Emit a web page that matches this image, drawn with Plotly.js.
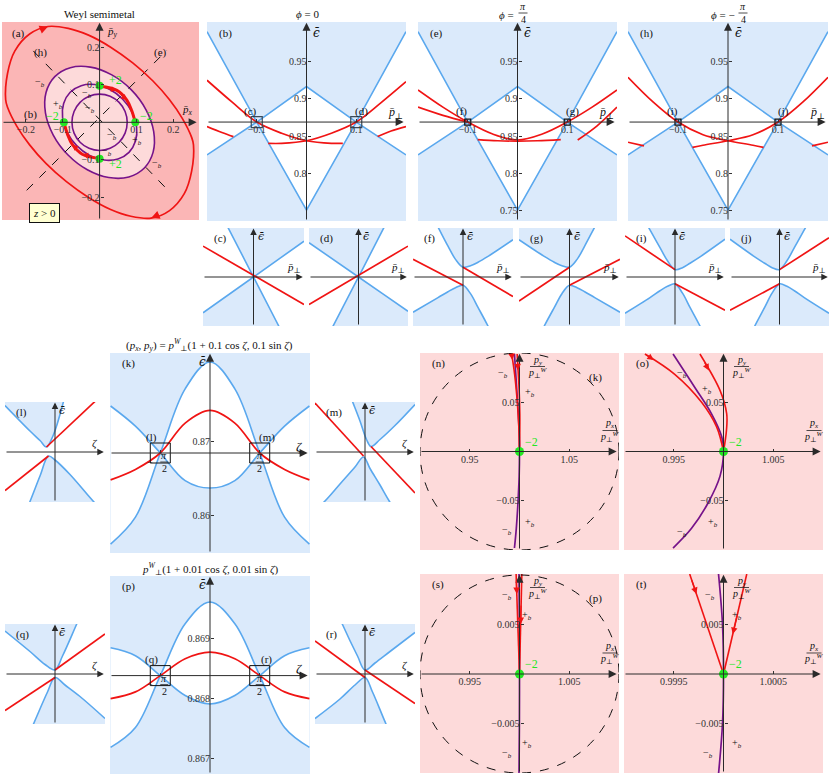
<!DOCTYPE html>
<html>
<head>
<meta charset="utf-8">
<script src="https://cdn.plot.ly/plotly-3.0.1.min.js"></script>
<style>body{margin:0;background:#fff}#fig{width:830px;height:778px}</style>
</head>
<body>
<div id="fig"></div>
<script>
// ---------- (a) orbits in the (px, py) plane ----------
var aRedX = [-0.255,-0.25,-0.23,-0.19,-0.14,-0.085,-0.03,0.03,0.09,0.145,0.19,0.225,0.25,0.255,0.25,0.23,0.19,0.14,0.085,0.03,-0.03,-0.09,-0.145,-0.19,-0.225,-0.25,-0.255];
var aRedY = [0.06,0.13,0.19,0.235,0.255,0.25,0.232,0.2,0.158,0.11,0.06,0.01,-0.04,-0.06,-0.13,-0.19,-0.235,-0.255,-0.25,-0.232,-0.2,-0.158,-0.11,-0.06,-0.01,0.04,0.06];
var aPurpOutX = [-0.1216,-0.0794,-0.025,0.0332,0.0863,0.1262,0.147,0.1454,0.1216,0.0794,0.025,-0.0332,-0.0863,-0.1262,-0.147,-0.1454,-0.1216];
var aPurpOutY = [0.1216,0.1454,0.147,0.1262,0.0863,0.0332,-0.025,-0.0794,-0.1216,-0.1454,-0.147,-0.1262,-0.0863,-0.0332,0.025,0.0794,0.1216];
var aPurpMidX = [-0.0799,-0.05,-0.0125,0.0269,0.0622,0.0881,0.1005,0.0976,0.0799,0.05,0.0125,-0.0269,-0.0622,-0.0881,-0.1005,-0.0976,-0.0799];
var aPurpMidY = [0.0799,0.0976,0.1005,0.0881,0.0622,0.0269,-0.0125,-0.05,-0.0799,-0.0976,-0.1005,-0.0881,-0.0622,-0.0269,0.0125,0.05,0.0799];
var aPurpInX = [0.075,0.0693,0.053,0.0287,0,-0.0287,-0.053,-0.0693,-0.075,-0.0693,-0.053,-0.0287,0,0.0287,0.053,0.0693,0.075];
var aPurpInY = [0,0.0287,0.053,0.0693,0.075,0.0693,0.053,0.0287,0,-0.0287,-0.053,-0.0693,-0.075,-0.0693,-0.053,-0.0287,0];
var aArcUpX = [0.001,0.047,0.074,0.087,0.0965];
var aArcUpY = [0.096,0.085,0.059,0.032,0.001];
var aArcDnX = [-0.001,-0.047,-0.074,-0.087,-0.0965];
var aArcDnY = [-0.096,-0.085,-0.059,-0.032,-0.001];
var aDashHX = [-0.18,0.186], aDashHY = [0.19,-0.181];
var aDashEX = [-0.198,0.183], aDashEY = [-0.181,0.192];
var aNodeX = [0,0.097,0,-0.097], aNodeY = [0.097,0,-0.097,0];
var aTicks = [-0.2,-0.1,0.1,0.2];

// ---------- (b), (e), (h) cuts through the nodes ----------
var cutP = [-0.2,-0.1,0,0.1,0.2];
var cutHi = [0.99,0.869,0.9165,0.869,0.99];
var cutLo = [0.825,0.869,0.751,0.869,0.825];
var cutTickP = [-0.1,0.1];
var bTickE = [0.8,0.85,0.9,0.95];
var eTickE = [0.75,0.8,0.85,0.9,0.95];
var crossP = [-0.1,0.1], crossE = [0.869,0.869];
var bRedAX = [-0.2,-0.15,-0.1,-0.05,0,0.05,0.073,0.1,0.143,0.17,0.2];
var bRedAY = [0.925,0.896,0.869,0.854,0.844,0.8405,0.8405,null,0.8497,0.857,0.863];
var bRedBX = [0.2,0.15,0.1,0.05,0,-0.05,-0.077,-0.1,-0.147,-0.17,-0.2];
var bRedBY = [0.923,0.895,0.869,0.854,0.844,0.8405,0.8405,null,0.8495,0.855,0.863];
var eRedAX = [-0.2,-0.15,-0.1,-0.05,0,0.05,0.1,0.15,0.2];
var eRedAY = [0.912,0.889,0.869,0.853,0.845,0.853,0.869,0.889,0.912];
var eRedBX = [-0.2,-0.15,-0.1,-0.09,-0.08,-0.04,0,0.04,0.087,0.1,0.121,0.16,0.2];
var eRedBY = [0.889,0.878,0.869,null,0.8455,0.844,0.8435,0.844,0.8455,null,0.845,0.864,0.889];
var hRedAX = [-0.2,-0.15,-0.1,-0.05,0,0.05,0.071];
var hRedAY = [0.929,0.896,0.869,0.852,0.844,0.838,0.835];
var hRedBX = [0.2,0.15,0.1,0.05,0,-0.05,-0.071];
var hRedBY = [0.929,0.896,0.869,0.852,0.844,0.838,0.835];
var hRedOutX = [-0.2,-0.168,0,0.168,0.2];
var hRedOutY = [0.842,0.837,null,0.837,0.842];

// ---------- small zoom panels (arbitrary units) ----------
var cdGridX = [-1,-0.5,0,0.5,1];
var cHiY = [2.0,1.0,0,0.365,0.73];
var cLoY = [-0.73,-0.365,0,-1.0,-2.0];
var cRedX = [-1,1], cRedY = [0.63,-0.56];
var dHiY = [0.7,0.35,0,0.98,1.95];
var dLoY = [-1.95,-0.98,0,-0.35,-0.7];
var dRedX = [-1,1], dRedY = [-0.56,0.63];
var gapGridX = [-1,-0.5,-0.3,-0.15,0,0.15,0.3,0.5,1];
var fHiY = [2.0,1.02,0.63,0.36,0.2,0.23,0.3,0.42,0.76];
var fLoY = [-0.72,-0.42,-0.3,-0.22,-0.17,-0.34,-0.62,-1.0,-2.0];
var fRedX = [-1,0,0,0,1], fRedY = [0.36,-0.17,null,0.2,-0.4];
var gHiY = [0.76,0.42,0.3,0.23,0.2,0.36,0.63,1.02,2.0];
var gLoY = [-2.0,-1.0,-0.62,-0.34,-0.17,-0.22,-0.3,-0.42,-0.72];
var gRedX = [-1,0,0,0,1], gRedY = [-0.49,0.2,null,-0.17,0.36];
var iHiY = [1.9,0.96,0.6,0.33,0.15,0.19,0.28,0.41,0.77];
var iLoY = [-0.74,-0.42,-0.28,-0.19,-0.14,-0.33,-0.62,-1.0,-2.0];
var iRedX = [-1,0,0,0,1], iRedY = [0.84,0.15,null,-0.14,-0.68];
var jHiY = [0.77,0.41,0.28,0.19,0.15,0.33,0.6,0.96,1.9];
var jLoY = [-2.0,-1.0,-0.62,-0.33,-0.14,-0.19,-0.28,-0.42,-0.74];
var jRedX = [-1,0,0,0,1], jRedY = [-0.68,-0.14,null,0.15,0.8];
var lHiX = [-1,-0.5,-0.3,-0.17,-0.05,0.05,0.17,0.4,1];
var lHiY = [0.93,0.42,0.23,0.1,0.3,0.58,1.01,1.9,4.0];
var lLoX = [-1,-0.5,-0.3,-0.13,0,0.3,0.77,1];
var lLoY = [-2.2,-0.99,-0.48,-0.08,-0.16,-0.45,-0.99,-1.22];
var lRedX = [-1,-0.13,-0.15,-0.17,1], lRedY = [-0.77,-0.08,null,0.1,1.2];
var mHiX = [-1,-0.4,-0.25,-0.1,0.03,0.12,0.3,0.6,1];
var mHiY = [3.0,1.4,1.01,0.62,0.25,0.11,0.25,0.53,0.95];
var mLoX = [-1,-0.81,-0.5,-0.2,-0.03,0.1,0.3,0.49,1];
var mLoY = [-1.15,-0.99,-0.64,-0.3,-0.1,-0.33,-0.66,-0.99,-1.8];
var mRedX = [-1,-0.03,0.05,0.12,1], mRedY = [0.98,-0.08,null,0.11,-0.82];
var qHiX = [-1,-0.5,-0.2,0,0.15,0.43,1];
var qHiY = [0.86,0.45,0.19,0.08,0.36,0.99,2.3];
var qLoX = [-1,-0.43,-0.15,0,0.2,0.5,1];
var qLoY = [-2.3,-1.0,-0.36,-0.07,-0.22,-0.45,-0.89];
var qRedX = [-1,0,0,0,1], qRedY = [-0.73,-0.07,null,0.08,0.8];
var rHiX = [-1,-0.45,-0.15,0,0.2,0.5,1];
var rHiY = [2.3,0.99,0.36,0.08,0.22,0.45,0.83];
var rLoX = [-1,-0.5,-0.2,0,0.15,0.42,1];
var rLoY = [-0.89,-0.5,-0.22,-0.07,-0.36,-1.0,-2.3];
var rRedX = [-1,0,0,0,1], rRedY = [0.66,-0.07,null,0.08,-0.59];

// ---------- (k), (p) energies along the small loops ----------
var kZeta = [-3.1416,-2.3562,-1.5708,-0.7854,0,0.7854,1.5708,2.3562,3.1416];
var kBandU = [0.8747,0.872,0.8684,0.8647,0.8637,0.8647,0.8684,0.872,0.8747];
var kBandV = [0.8562,0.8598,0.8684,0.877,0.8806,0.877,0.8684,0.8598,0.8562];
var kRed = [0.8648,0.8662,0.8684,0.8724,0.8741,0.8724,0.8684,0.8662,0.8648];
var kTickE = [0.86,0.87];
var kCrossZ = [-1.5708,1.5708], kCrossE = [0.8684,0.8684];
var pBandU = [0.86884,0.86871,0.86838,0.86805,0.86791,0.86805,0.86838,0.86871,0.86884];
var pBandV = [0.86719,0.86752,0.86838,0.86924,0.8696,0.86924,0.86838,0.86752,0.86719];
var pRed = [0.868,0.86811,0.86838,0.86866,0.86877,0.86866,0.86838,0.86811,0.868];
var pTickE = [0.867,0.868,0.869];
var pCrossE = [0.86838,0.86838];

// ---------- (n), (o), (s), (t) orbits near the node ----------
var orbRed1X = [0.9921,0.9951,0.9978,0.99931,1.0];
var orbRed1Y = [0.099,0.0784,0.05,0.025,0];
var orbRed2X = [0.99763,0.99965,1.00032,1.0003,1.0];
var orbRed2Y = [0.099,0.062,0.0384,0.0217,0];
var orbPurpX = [0.99493,0.99712,0.99881,0.99982,1.0,0.99965,0.99846,0.99679,0.99493];
var orbPurpY = [0.099,0.065,0.038,0.015,0,-0.025,-0.052,-0.078,-0.098];
var thinRed1X = [0.99966,1.0], thinRed1Y = [0.0101,0];
var thinRed2X = [1.000234,1.0], thinRed2Y = [0.0101,0];
var thinPurpX = [0.99995,0.99999,1.0,0.99999,0.99995];
var thinPurpY = [0.0101,0.005,0,-0.005,-0.0101];
var nodeX = [1.0], nodeY = [0];

// ================= drawing =================
var W = 830, H = 778;
var FONT = '"Liberation Serif", "DejaVu Serif", serif';
var BLUE = '#5aa8ee', BLUE_BG = '#dbeafb', RED = '#f01414', PURPLE = '#76138a', GREEN = '#22e622';
var PINK = '#fbb6b6', PINK_LT = '#fddada', AXC = '#2a2a2a';
var TICKFONT = {family: FONT, size: 10, color: '#333'};
var EPS = '<span style="font-family:DejaVu Serif"><i>ϵ̄</i></span>';
var PPERP = '<i>p̄</i><sub>⊥</sub>', ZETA = '<i>ζ</i>';
var MB = '−<sub><i>b</i></sub>', PB = '+<sub><i>b</i></sub>';

var traces = [], shapes = [], annots = [];
var layout = {width: W, height: H, margin: {l: 0, r: 0, t: 0, b: 0}, paper_bgcolor: '#fff',
  plot_bgcolor: 'rgba(0,0,0,0)', showlegend: false, font: {family: FONT}};
var nAx = 0;

function txt(xp, yp, s, size, color, xanc) {
  annots.push({xref: 'paper', yref: 'paper', x: xp / W, y: 1 - yp / H, text: s, showarrow: false,
    font: {family: FONT, size: size || 11, color: color || '#111'}, xanchor: xanc || 'center', yanchor: 'middle'});
}
function frac(cx, cy, num, den, w, size) {
  txt(cx, cy - 6.5, num, size);
  txt(cx, cy + 6.5, den, size);
  shapes.push({type: 'line', xref: 'paper', yref: 'paper', x0: (cx - w / 2) / W, x1: (cx + w / 2) / W,
    y0: 1 - cy / H, y1: 1 - cy / H, line: {color: '#222', width: 0.8}});
}
function arrow(p, xt, yt, xh, yh, color, size, width) {
  annots.push({xref: p.xa, yref: p.ya, axref: p.xa, ayref: p.ya, x: xh, y: yh, ax: xt, ay: yt, text: '',
    showarrow: true, arrowhead: 2, arrowsize: size, arrowwidth: width, arrowcolor: color, standoff: 0, startstandoff: 0});
}
function makePanel(box, xr, yr, o) {
  var k = ++nAx, s = k === 1 ? '' : String(k);
  var p = {xa: 'x' + s, ya: 'y' + s, box: box, xr: xr, yr: yr};
  p.px = function (v) { return box[0] + (v - xr[0]) / (xr[1] - xr[0]) * (box[1] - box[0]); };
  p.py = function (v) { return box[3] - (v - yr[0]) / (yr[1] - yr[0]) * (box[3] - box[2]); };
  var x0 = o.x0 || 0, y0 = o.y0 || 0;
  p.ax = p.px(x0); p.ay = p.py(y0);
  layout['xaxis' + s] = {domain: [box[0] / W, box[1] / W], range: xr, anchor: 'free', position: 1 - p.ay / H,
    showgrid: false, zeroline: false, showline: false, tickmode: 'array', tickvals: o.xt || [],
    showticklabels: !!o.xt && !o.hideX, ticks: o.xt ? 'inside' : '', ticklen: 3, tickcolor: '#333',
    tickfont: TICKFONT, fixedrange: true};
  layout['yaxis' + s] = {domain: [1 - box[3] / H, 1 - box[2] / H], range: yr, anchor: 'free', position: p.ax / W,
    showgrid: false, zeroline: false, showline: false, tickmode: 'array', tickvals: o.yt || [],
    showticklabels: !!o.yt, ticks: o.yt ? 'inside' : '', ticklen: 3, tickcolor: '#333',
    tickfont: TICKFONT, fixedrange: true};
  if (o.bg) shapes.push({type: 'rect', xref: p.xa + ' domain', yref: p.ya + ' domain', x0: 0, x1: 1, y0: 0, y1: 1,
    fillcolor: o.bg, line: {width: 0}, layer: 'below'});
  p.axes = function () {
    arrow(p, xr[0], y0, xr[1] - (xr[1] - xr[0]) * 0.012, y0, AXC, o.as || 1.6, 1);
    arrow(p, x0, yr[0], x0, yr[1] - (yr[1] - yr[0]) * 0.004, AXC, o.as || 1.6, 1);
  };
  return p;
}
function curve(p, xs, ys, color, width, shape, dash) {
  traces.push({type: 'scatter', mode: 'lines', x: xs, y: ys, xaxis: p.xa, yaxis: p.ya, hoverinfo: 'skip',
    connectgaps: false, line: {color: color, width: width, shape: shape || 'linear', dash: dash || 'solid', smoothing: 1}});
}
function band(p, x1, y1, x2, y2, shape) {
  traces.push({type: 'scatter', mode: 'lines', x: x1, y: y1, xaxis: p.xa, yaxis: p.ya, hoverinfo: 'skip',
    line: {width: 0, shape: shape || 'linear', smoothing: 1}});
  traces.push({type: 'scatter', mode: 'lines', x: x2, y: y2, xaxis: p.xa, yaxis: p.ya, hoverinfo: 'skip',
    line: {width: 0, shape: shape || 'linear', smoothing: 1}, fill: 'tonexty', fillcolor: '#ffffff'});
  curve(p, x1, y1, BLUE, 1.6, shape);
  curve(p, x2, y2, BLUE, 1.6, shape);
}
function dots(p, xs, ys, color, size, symbol, lw) {
  traces.push({type: 'scatter', mode: 'markers', x: xs, y: ys, xaxis: p.xa, yaxis: p.ya, hoverinfo: 'skip',
    cliponaxis: false, marker: {color: color, size: size, symbol: symbol || 'circle', line: {color: color, width: lw || 0}}});
}
function flow(p, xs, ys, i, f0, f1, color, size) {
  var dx = xs[i + 1] - xs[i], dy = ys[i + 1] - ys[i];
  arrow(p, xs[i] + dx * f0, ys[i] + dy * f0, xs[i] + dx * f1, ys[i] + dy * f1, color, size, 1.3);
}

// ----- (a) -----
var pa = makePanel([2, 199, 22, 220], [-0.265, 0.27], [-0.26, 0.267], {xt: aTicks, yt: aTicks, bg: PINK});
traces.push({type: 'scatter', mode: 'lines', x: aPurpOutX, y: aPurpOutY, xaxis: pa.xa, yaxis: pa.ya, hoverinfo: 'skip',
  fill: 'toself', fillcolor: PINK_LT, line: {color: PURPLE, width: 1.6, shape: 'spline'}});
curve(pa, aDashHX, aDashHY, '#111', 1, 'linear', 'dash');
curve(pa, aDashEX, aDashEY, '#111', 1, 'linear', 'dash');
pa.axes();
curve(pa, aPurpMidX, aPurpMidY, PURPLE, 1.6, 'spline');
curve(pa, aPurpInX, aPurpInY, PURPLE, 1.6, 'spline');
curve(pa, aRedX, aRedY, RED, 1.7, 'spline');
curve(pa, aArcUpX, aArcUpY, RED, 3, 'spline');
curve(pa, aArcDnX, aArcDnY, RED, 3, 'spline');
dots(pa, aNodeX, aNodeY, GREEN, 8);
flow(pa, aRedX, aRedY, 3, 0.5, 1, RED, 1.3);
flow(pa, aRedX, aRedY, 16, 0.5, 1, RED, 1.3);
flow(pa, aArcUpX, aArcUpY, 0, 0.4, 1, RED, 0.9);
flow(pa, aArcUpX, aArcUpY, 1, 0.4, 1, RED, 0.9);
flow(pa, aArcDnX, aArcDnY, 0, 0.4, 1, RED, 0.9);
flow(pa, aArcDnX, aArcDnY, 1, 0.4, 1, RED, 0.9);
txt(99, 14, 'Weyl semimetal', 11);
txt(10, 33, '(a)', 11, '#111', 'left');
txt(112, 32, '<i>p̄<sub>y</sub></i>', 11);
txt(187, 110, '<i>p̄<sub>x</sub></i>', 11);
txt(40, 53, '(h)', 11); txt(160, 53, '(e)', 11); txt(30, 114, '(b)', 11);
txt(115, 80, '+2', 12, GREEN); txt(146, 116, '−2', 12, GREEN);
txt(52, 116, '−2', 12, GREEN); txt(115, 164, '+2', 12, GREEN);
[[40, 82, MB], [87, 93, MB], [58, 105, PB], [90, 108, MB], [112, 136, MB], [137, 140, PB], [107, 152, MB], [157, 163, MB]]
  .forEach(function (t) { txt(t[0], t[1], t[2], 10); });
annots.push({xref: 'paper', yref: 'paper', x: 28.5 / W, y: 1 - 202.5 / H, text: '<i>z</i> &gt; 0', showarrow: false,
  font: {family: FONT, size: 11, color: '#111'}, bgcolor: '#ffffd2', bordercolor: '#111', borderwidth: 1, borderpad: 3});

// ----- (b), (e), (h) -----
function cutPanel(box, ticksE, red, squareSize, lbl) {
  var p = makePanel(box, [-0.2, 0.2], [0.7365, 1.003], {y0: 0.869, xt: cutTickP, yt: ticksE, bg: BLUE_BG});
  band(p, cutP, cutLo, cutP, cutHi);
  p.axes();
  red.forEach(function (r) { curve(p, r[0], r[1], RED, 1.7, 'spline'); });
  dots(p, crossP, crossE, squareSize > 8 ? '#3a4a5a' : '#111', squareSize, 'square-open', 1.2);
  txt(box[0] + 10, box[2] + 11, lbl[0], 11, '#111', 'left');
  txt(p.ax + 10, box[2] + 11, EPS, 12);
  txt(box[1] - 11, p.ay - 9, PPERP, 12);
  txt(p.px(-0.1) - 6, p.ay - 11, lbl[1], 11);
  txt(p.px(0.1) + 5, p.ay - 11, lbl[2], 11);
  return p;
}
var pb = cutPanel([207, 406, 22, 221], bTickE, [[bRedAX, bRedAY], [bRedBX, bRedBY]], 11, ['(b)', '(c)', '(d)']);
var pe = cutPanel([418, 617, 22, 221], eTickE, [[eRedAX, eRedAY], [eRedBX, eRedBY]], 6, ['(e)', '(f)', '(g)']);
var ph = cutPanel([628, 828, 22, 221], eTickE, [[hRedAX, hRedAY], [hRedBX, hRedBY], [hRedOutX, hRedOutY]], 6, ['(h)', '(i)', '(j)']);
txt(307, 14, '<i>ϕ</i> = 0', 11);
txt(516, 15, '<i>ϕ</i> =', 11, '#111', 'right'); frac(523, 13, '<i>π</i>', '4', 9, 10);
txt(737, 15, '<i>ϕ</i> = −', 11, '#111', 'right'); frac(743, 13, '<i>π</i>', '4', 9, 10);

// ----- small zoom panels -----
function smallPanel(box, lbl, xlab, hiX, hiY, loX, loY, redX, redY, shape) {
  var p = makePanel(box, [-1, 1], [-1, 1], {bg: BLUE_BG, as: 1.3});
  band(p, loX, loY, hiX, hiY, shape);
  p.axes();
  curve(p, redX, redY, RED, 1.7);
  txt(box[0] + 9, box[2] + 10, lbl, 11, '#111', 'left');
  txt(p.ax + 7, box[2] + 8, EPS, 11);
  txt(box[1] - 10, p.ay - 9, xlab, 11);
  return p;
}
smallPanel([203, 304, 228, 326], '(c)', PPERP, cdGridX, cHiY, cdGridX, cLoY, cRedX, cRedY, 'linear');
smallPanel([309, 408, 228, 326], '(d)', PPERP, cdGridX, dHiY, cdGridX, dLoY, dRedX, dRedY, 'linear');
smallPanel([413, 513, 228, 326], '(f)', PPERP, gapGridX, fHiY, gapGridX, fLoY, fRedX, fRedY, 'spline');
smallPanel([519, 620, 228, 326], '(g)', PPERP, gapGridX, gHiY, gapGridX, gLoY, gRedX, gRedY, 'spline');
smallPanel([625, 725, 228, 326], '(i)', PPERP, gapGridX, iHiY, gapGridX, iLoY, iRedX, iRedY, 'spline');
smallPanel([730, 829, 228, 326], '(j)', PPERP, gapGridX, jHiY, gapGridX, jLoY, jRedX, jRedY, 'spline');

// ----- (k) and (p) -----
function loopPanel(box, yr, y0, ticks, U, V, R, crossE2, lbl, sub, title, ty) {
  var p = makePanel(box, [-3.16, 3.16], yr, {y0: y0, xt: kCrossZ, hideX: true, yt: ticks, bg: BLUE_BG});
  band(p, kZeta, U, kZeta, V, 'spline');
  p.axes();
  curve(p, kZeta, R, RED, 1.7, 'spline');
  dots(p, kCrossZ, crossE2, '#111', 20, 'square-open', 1);
  txt(box[0] + 10, box[2] + 10, lbl, 11, '#111', 'left');
  txt(p.ax - 8, box[2] + 9, EPS, 12);
  txt(box[1] - 11, p.ay - 7, ZETA, 13);
  txt(p.px(-1.5708) - 9, p.ay - 16, sub[0], 11);
  txt(p.px(1.5708) + 7, p.ay - 16, sub[1], 11);
  txt(p.px(-1.5708) - 10, p.ay + 9, '−', 10);
  frac(p.px(-1.5708) + 4, p.ay + 9, '<i>π</i>', '2', 8, 10);
  frac(p.px(1.5708), p.ay + 9, '<i>π</i>', '2', 8, 10);
  txt(210, ty, title, 11);
  return p;
}
var pl = smallPanel([5, 105, 402, 502], '(l)', ZETA, lHiX, lHiY, lLoX, lLoY, lRedX, lRedY, 'spline');
var pk = loopPanel([110, 310, 353, 553], [0.855, 0.8818], 0.8684, kTickE, kBandU, kBandV, kRed, kCrossE, '(k)', ['(l)', '(m)'],
  '(<i>p<sub>x</sub></i>, <i>p<sub>y</sub></i>) = <i>p</i><sup><i>W</i></sup><sub>⊥</sub>(1 + 0.1 cos <i>ζ</i>, 0.1 sin <i>ζ</i>)', 345);
var pm = smallPanel([315, 415, 402, 502], '(m)', ZETA, mHiX, mHiY, mLoX, mLoY, mRedX, mRedY, 'spline');

// ----- (n), (o) -----
function orbitPanel(box, xr, yr, xt, yt, r1x, r1y, r2x, r2y, px, py, f1, f2, lbl, circ, circLbl, fy) {
  var p = makePanel(box, xr, yr, {x0: 1, xt: xt, yt: yt, bg: PINK_LT});
  if (circ) shapes.push({type: 'circle', xref: p.xa, yref: p.ya, x0: 1 - circ, x1: 1 + circ, y0: -circ, y1: circ,
    line: {color: '#111', width: 1, dash: 'dash'}});
  p.axes();
  curve(p, px, py, PURPLE, 1.7, 'spline');
  curve(p, r1x, r1y, RED, 1.6, 'spline');
  curve(p, r2x, r2y, RED, 1.6, 'spline');
  flow(p, r1x, r1y, 0, f1[0], f1[1], RED, 1);
  flow(p, r2x, r2y, 0, f2[0], f2[1], RED, 1);
  dots(p, nodeX, nodeY, GREEN, 9);
  var ax = p.ax, top = box[2];
  txt(box[0] + 10, top + 10, lbl, 11, '#111', 'left');
  txt(ax + 12, p.ay - 10, '−2', 12, GREEN);
  var xs = fy.x, ys = fy.y;
  txt(xs[0], top + ys[0], MB, 10); txt(xs[1], top + ys[1], PB, 10);
  txt(xs[2], top + ys[2], PB, 10); txt(xs[3], top + ys[3], MB, 10);
  frac(ax + 18, top + 13.5, '<i>p<sub>y</sub></i>', '<i>p</i><sub>⊥</sub><sup><i>W</i></sup>', 15, 10);
  frac(box[1] - 9, p.ay - 21, '<i>p<sub>x</sub></i>', '<i>p</i><sub>⊥</sub><sup><i>W</i></sup>', 15, 10);
  if (circLbl) txt(box[1] - 24, top + 24, circLbl, 11);
  return p;
}
orbitPanel([420, 619, 353, 550], [0.9, 1.1], [-0.1, 0.1], [0.95, 1.05], [-0.05, 0.05], orbRed1X, orbRed1Y, orbRed2X, orbRed2Y,
  orbPurpX, orbPurpY, [0, 0.3], [0.2, 0.45], '(n)', 0.1, '(k)', {x: [503, 530, 530, 507], y: [20, 39, 169, 177]});
orbitPanel([624, 823, 353, 550], [0.99, 1.01], [-0.1, 0.1], [0.995, 1.005], [-0.05, 0.05], orbRed1X, orbRed1Y, orbRed2X, orbRed2Y,
  orbPurpX, orbPurpY, [0, 0.3], [0.2, 0.45], '(o)', 0, '', {x: [682, 707, 713, 682], y: [20, 37, 169, 179]});

// ----- (q), (p), (r) -----
var pq = smallPanel([5, 105, 624, 724], '(q)', ZETA, qHiX, qHiY, qLoX, qLoY, qRedX, qRedY, 'spline');
var pp = loopPanel([110, 310, 576, 774], [0.86675, 0.87003], 0.86838, pTickE, pBandU, pBandV, pRed, pCrossE, '(p)', ['(q)', '(r)'],
  '<i>p</i><sup><i>W</i></sup><sub>⊥</sub>(1 + 0.01 cos <i>ζ</i>, 0.01 sin <i>ζ</i>)', 569);
var pr = smallPanel([315, 415, 624, 724], '(r)', ZETA, rHiX, rHiY, rLoX, rLoY, rRedX, rRedY, 'spline');

// ----- (s), (t) -----
orbitPanel([420, 619, 574, 773], [0.99, 1.01], [-0.01, 0.0101], [0.995, 1.005], [-0.005, 0.005], thinRed1X, thinRed1Y, thinRed2X, thinRed2Y,
  thinPurpX, thinPurpY, [0.05, 0.2], [0.3, 0.5], '(s)', 0.01, '(p)', {x: [507, 527, 527, 507], y: [21, 41, 169, 179]});
orbitPanel([624, 823, 574, 773], [0.999, 1.001], [-0.01, 0.0101], [0.9995, 1.0005], [-0.005, 0.005], thinRed1X, thinRed1Y, thinRed2X, thinRed2Y,
  thinPurpX, thinPurpY, [0.05, 0.2], [0.4, 0.6], '(t)', 0, '', {x: [710, 737, 737, 708], y: [21, 41, 169, 179]});

layout.shapes = shapes;
layout.annotations = annots;
Plotly.newPlot('fig', traces, layout, {staticPlot: true, displayModeBar: false});
</script>
</body>
</html>
